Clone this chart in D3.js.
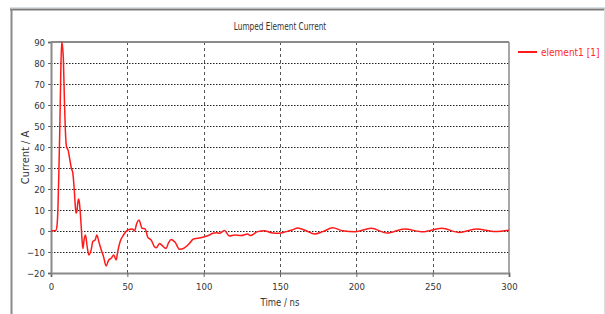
<!DOCTYPE html>
<html>
<head>
<meta charset="utf-8">
<script src="https://cdn.jsdelivr.net/npm/d3@7"></script>
<style>
  html, body { margin: 0; padding: 0; background: #fff; }
  svg text { font-family: "DejaVu Sans Condensed", "Liberation Sans", sans-serif; }
</style>
</head>
<body>
<div id="chart"></div>
<script>
const titleText = 'Lumped Element Current';
const xLabel = 'Time / ns';
const yLabel = 'Current / A';
const seriesName = 'element1 [1]';
const xTicks = [0, 50, 100, 150, 200, 250, 300];
const yTicks = [-20, -10, 0, 10, 20, 30, 40, 50, 60, 70, 80, 90];

// time in ns, current in A
const timeNs = [0, 3.2, 4.0, 4.6, 5.2, 5.8, 6.4, 7.0, 7.5, 8.1, 8.8, 9.6, 10.2, 11.2, 12.1, 13.3, 14.3, 15.2, 15.9, 16.4, 17.0, 17.5, 18.0, 18.6, 19.8, 20.4, 20.9, 21.7, 22.6, 23.7, 24.8, 26.3, 27.4, 28.9, 30.0, 31.3, 32.9, 34.4, 36.1, 37.8, 39.4, 41.1, 42.7, 43.7, 45.3, 47.5, 50.3, 53.2, 54.7, 56.2, 57.6, 59.7, 61.7, 63.4, 65.6, 67.8, 69.0, 71.1, 72.5, 75.4, 77.0, 78.7, 81.3, 84.2, 87.4, 90.7, 93.3, 96.1, 100.5, 103.8, 106.0, 108.2, 110.4, 113.6, 116.9, 120.2, 124.6, 128.9, 130.4, 135.4, 139.8, 144.2, 149.6, 154.0, 158.0, 161.6, 167.1, 172.6, 178.0, 184.6, 191.1, 199.3, 209.7, 220.0, 231.5, 243.5, 256.0, 267.5, 278.5, 291.0, 300];
const currentA = [0, 0.3, 3, 12, 30, 50, 75, 90, 88, 82, 62, 45, 40, 38.5, 35, 30, 27.6, 20, 12, 8.5, 9.5, 13, 15.2, 13.5, 2, -5, -8.3, -4, -1.9, -7.5, -11.4, -9, -5, -4.3, -1.9, -5, -9, -12.2, -16.7, -13.8, -13, -11.4, -13.8, -9.8, -5, -1.9, 0.5, 1, 0.1, 3.7, 5.2, 1.3, 1, -3, -4.3, -7.5, -8, -5.9, -6.7, -8.3, -5.6, -4, -5.4, -8.7, -8, -5.9, -3.8, -3.5, -2.7, -1.9, -1.1, -0.8, -1.1, 0.2, -2.4, -1.9, -2.2, -1.4, -2.2, -0.3, 0.1, -0.8, -1.1, -0.3, 0.5, 1.4, 0.1, -1.4, -0.3, 1.5, 0.1, -0.3, 1.3, -1.0, 1.0, -0.4, 1.3, -0.7, 1.0, -0.2, 0.4];

const W = 605, H = 314;
const margin = { top: 42, right: 96, bottom: 41, left: 51 };
const innerW = W - margin.left - margin.right;
const innerH = H - margin.top - margin.bottom;

const svg = d3.select('#chart').append('svg').attr('width', W).attr('height', H);

// outer panel frame
svg.append('line').attr('x1', 10).attr('x2', 605).attr('y1', 7.5).attr('y2', 7.5).attr('stroke', '#d8e0e8').attr('stroke-width', 1);
svg.append('line').attr('x1', 10).attr('x2', 605).attr('y1', 9.5).attr('y2', 9.5).attr('stroke', '#7a7a7a').attr('stroke-width', 2);
svg.append('line').attr('x1', 11.5).attr('x2', 11.5).attr('y1', 9).attr('y2', H).attr('stroke', '#8a8a8a').attr('stroke-width', 2);
svg.append('line').attr('x1', 604.5).attr('x2', 604.5).attr('y1', 9).attr('y2', H).attr('stroke', '#e0e0e0').attr('stroke-width', 1);

const x = d3.scaleLinear([0, 300], [0, innerW]);
const y = d3.scaleLinear([-20, 90], [innerH, 0]);

const g = svg.append('g').attr('transform', `translate(${margin.left},${margin.top})`);

// grid
g.append('g').selectAll('line').data(yTicks.slice(1, -1)).join('line')
  .attr('x1', 0).attr('x2', innerW).attr('y1', (d) => Math.round(y(d)) + 0.5).attr('y2', (d) => Math.round(y(d)) + 0.5)
  .attr('stroke', '#222').attr('stroke-width', 1).attr('stroke-dasharray', '1.5,1.5');
g.append('g').selectAll('line').data(xTicks.slice(1, -1)).join('line')
  .attr('y1', 0).attr('y2', innerH).attr('x1', (d) => Math.round(x(d)) + 0.5).attr('x2', (d) => Math.round(x(d)) + 0.5)
  .attr('stroke', '#555').attr('stroke-width', 1).attr('stroke-dasharray', '3,3');

// axes
const xAxis = g.append('g').attr('transform', `translate(0,${innerH})`)
  .call(d3.axisBottom(x).tickValues(xTicks).tickSize(4).tickPadding(6).tickFormat(d3.format('d')));
const yAxis = g.append('g')
  .call(d3.axisLeft(y).tickValues(yTicks).tickSize(3).tickPadding(3).tickFormat(d3.format('d')));
[xAxis, yAxis].forEach((a) => {
  a.select('.domain').attr('stroke', '#8a8a8a').attr('stroke-width', 2);
  a.selectAll('.tick line').attr('stroke', '#666');
  a.selectAll('.tick text').attr('fill', '#333').style('font-size', '9.5px');
});

// plot frame top and right
g.append('line').attr('x1', 0).attr('x2', innerW).attr('y1', 0).attr('y2', 0).attr('stroke', '#8a8a8a').attr('stroke-width', 2);
g.append('line').attr('x1', innerW).attr('x2', innerW).attr('y1', 0).attr('y2', innerH).attr('stroke', '#8a8a8a').attr('stroke-width', 1.5);

// series
const pts = timeNs.map((t, i) => ({ t, v: currentA[i] }));
const line = d3.line().x((d) => x(d.t)).y((d) => y(d.v)).curve(d3.curveMonotoneX);
g.append('path').datum(pts).attr('fill', 'none').attr('stroke', '#ff1a1a').attr('stroke-width', 1.5).attr('stroke-linejoin', 'round').attr('d', line);

// titles
svg.append('text').attr('transform', `translate(${margin.left + innerW / 2},30) scale(0.78,1)`).attr('text-anchor', 'middle')
  .attr('fill', '#333').style('font-size', '10.5px').text(titleText);
svg.append('text').attr('transform', `translate(${margin.left + innerW / 2},306) scale(0.9,1)`).attr('text-anchor', 'middle')
  .attr('fill', '#333').style('font-size', '10.5px').text(xLabel);
svg.append('text').attr('transform', `translate(29,${margin.top + innerH / 2}) rotate(-90)`).attr('text-anchor', 'middle')
  .attr('fill', '#333').style('font-size', '11px').text(yLabel);

// legend
svg.append('line').attr('x1', 518).attr('x2', 537).attr('y1', 52).attr('y2', 52).attr('stroke', '#ff1a1a').attr('stroke-width', 2);
svg.append('text').attr('x', 541).attr('y', 56).attr('fill', '#ff2a2a').style('font-size', '10px').text(seriesName);
</script>
</body>
</html>
